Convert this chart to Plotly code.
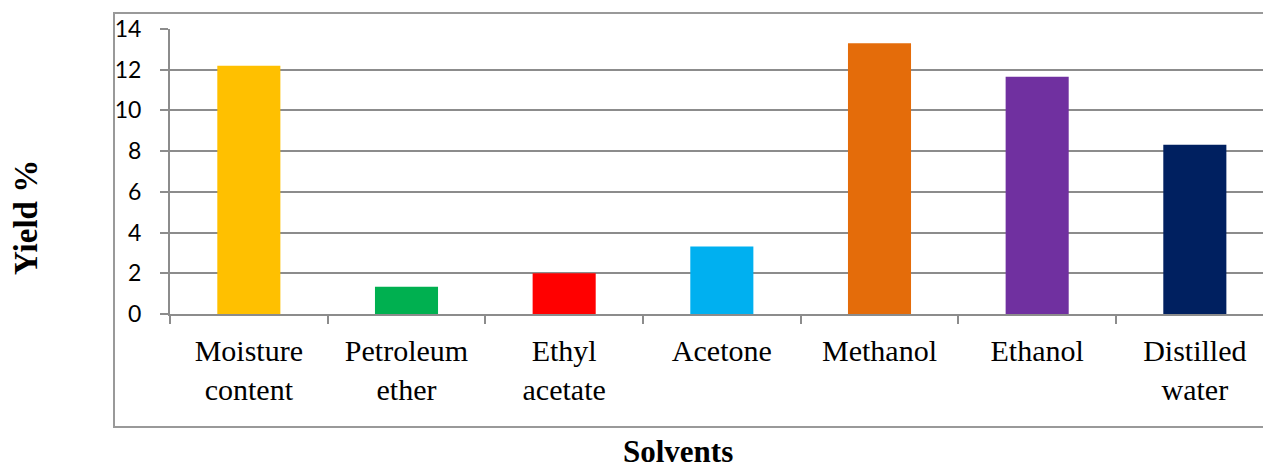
import plotly.graph_objects as go

categories = ["Moisture<br>content", "Petroleum<br>ether", "Ethyl<br>acetate", "Acetone",
              "Methanol", "Ethanol", "Distilled<br>water"]
yield_pct = [12.2, 1.34, 2.0, 3.32, 13.3, 11.66, 8.32]
bar_colors = ["#FFC000", "#00B050", "#FF0000", "#00B0F0", "#E46C0A", "#7030A0", "#002060"]
y_ticks = [0, 2, 4, 6, 8, 10, 12, 14]

W, H = 1263, 468
left, right, top, bottom = 170, 1263, 29, 314
pw, ph = right - left, bottom - top
cat_px = (1116 - 170) / 6.0

fig = go.Figure(go.Bar(x=categories, y=yield_pct, marker_color=bar_colors,
                       marker_line_width=0, width=0.4))

grid = "#8c8c8c"
fig.update_layout(
    width=W, height=H,
    margin=dict(l=left, r=W - right, t=top, b=H - bottom, pad=0),
    paper_bgcolor="white", plot_bgcolor="white",
    showlegend=False,
    xaxis=dict(type="category", range=[-0.5, -0.5 + pw / cat_px],
               showline=True, linecolor=grid, linewidth=2,
               ticks="outside", tickson="boundaries", ticklen=8, tickcolor=grid, tickwidth=2,
               showgrid=False,
               tickfont=dict(family="Liberation Serif", size=30, color="black"),
               ticklabelstandoff=9),
    yaxis=dict(range=[0, 14], tickvals=y_ticks, showline=True, linecolor=grid, linewidth=2,
               ticks="outside", ticklen=8, tickcolor=grid, tickwidth=2,
               showgrid=True, gridcolor=grid, gridwidth=2, zeroline=False,
               tickfont=dict(family="Lato", size=23, color="black"),
               ticklabelstandoff=14),
    bargap=0.6,
)

def px_x(x):
    return (x - left) / pw
def px_y(y):
    return (bottom - y) / ph

# outer chart box
fig.add_shape(type="rect", xref="paper", yref="paper",
              x0=px_x(114), x1=px_x(1290), y0=px_y(427), y1=px_y(13),
              line=dict(color="#999999", width=2), fillcolor="rgba(0,0,0,0)", layer="below")

fig.add_annotation(xref="paper", yref="paper", x=px_x(26), y=px_y(218), text="<b>Yield %</b>",
                   textangle=-90, showarrow=False, xanchor="center", yanchor="middle",
                   font=dict(family="Liberation Serif", size=33, color="black"))
fig.add_annotation(xref="paper", yref="paper", x=px_x(678), y=px_y(451), text="<b>Solvents</b>",
                   showarrow=False, xanchor="center", yanchor="middle",
                   font=dict(family="Liberation Serif", size=31, color="black"))

fig.write_html("out.html", config={"displayModeBar": False},
               post_script="document.body.style.margin='0';document.body.style.overflow='hidden';")
